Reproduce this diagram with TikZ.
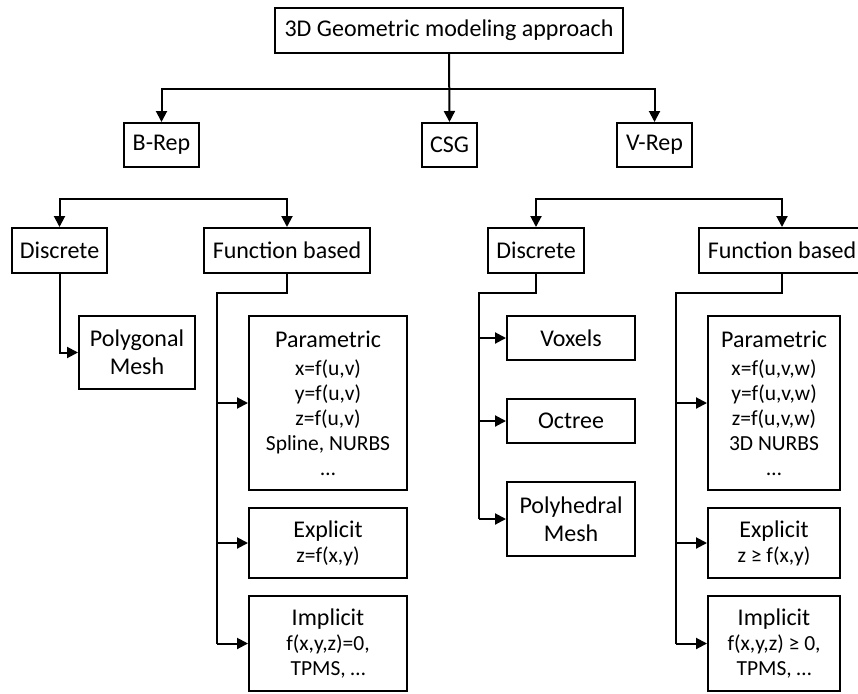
\documentclass[tikz,border=0pt]{standalone}
\usepackage{fontspec}
\setmainfont{Carlito}
\usetikzlibrary{arrows.meta}
\tikzset{>={Triangle[length=11pt,width=11pt]}}
\tikzset{
  box/.style={draw, line width=2pt, align=center, inner sep=0pt,
    font=\fontsize{24}{28}\selectfont},
  leaf/.style={box, font=\fontsize{21.5}{25}\selectfont},
  link/.style={line width=2pt},
  bus/.style={line width=2.6pt}
}
\newcommand{\head}[1]{{\fontsize{24}{28}\selectfont #1}}

\begin{document}
\begin{tikzpicture}[x=1pt,y=-1pt]
    \useasboundingbox (0,0) rectangle (858,693);
    % root and the three approaches
    \node[box,minimum width=348pt,minimum height=45pt] (top) at (449,30.5) {3D Geometric modeling approach};
    \node[box,minimum width=75pt,minimum height=44pt] (brep) at (161.5,145) {B-Rep};
    \node[box,minimum width=55pt,minimum height=44pt] (csg) at (449.5,145) {CSG};
    \node[box,minimum width=75pt,minimum height=44pt] (vrep) at (654.5,145) {V-Rep};
    \draw[link,->] (top.south) -- (csg.north);
    \draw[link,->] (top.south) ++(0,35) -| (brep.north);
    \draw[link,->] (top.south) ++(0,35) -| (vrep.north);
    % second level
    \begin{scope}[minimum height=45pt]
        \node[box,minimum width=95pt] (ldisc) at (59.5,250.5) {Discrete};
        \node[box,minimum width=166pt] (lfunc) at (287,250.5) {Function based};
        \node[box,minimum width=96pt] (rdisc) at (536,250.5) {Discrete};
        \node[box,minimum width=166pt] (rfunc) at (782,250.5) {Function based};
    \end{scope}
    \draw[link,->] (brep.south) ++(0,31) -| (ldisc.north);
    \draw[link,->] (brep.south) ++(0,31) -| (lfunc.north);
    \draw[link,->] (vrep.south) ++(0,31) -| (rdisc.north);
    \draw[link,->] (vrep.south) ++(0,31) -| (rfunc.north);
    % B-Rep leaves
    \node[box,minimum width=116pt,minimum height=73pt] (polymesh) at (137,352.5) {Polygonal\\Mesh};
    \draw[link,->] (ldisc.south) |- (polymesh.west);
    \begin{scope}[minimum width=158pt]
        \node[leaf,minimum height=174pt] (lpar) at (328,403)
            {\head{Parametric}\\[3pt]x=f(u,v)\\y=f(u,v)\\z=f(u,v)\\Spline, NURBS\\…};
        \node[leaf,minimum height=70pt] (lexp) at (328,543) {\head{Explicit}\\z=f(x,y)};
        \node[leaf,minimum height=95pt] (limp) at (328,643.5) {\head{Implicit}\\f(x,y,z)=0,\\TPMS, …};
    \end{scope}
    \coordinate (lbus) at (217,293);
    \draw[bus] (lfunc.south) |- (lbus) -- (lbus |- limp.west);
    \foreach \b in {lpar,lexp,limp}
        \draw[link,->] (lbus |- \b.west) -- (\b.west);
    % V-Rep leaves
    \begin{scope}[minimum width=128pt]
        \node[box,minimum height=44pt] (voxels) at (571,338) {Voxels};
        \node[box,minimum height=44pt] (octree) at (571,421) {Octree};
        \node[box,minimum height=74pt] (polyhed) at (571,519) {Polyhedral\\Mesh};
    \end{scope}
    \coordinate (rdbus) at (479,293);
    \draw[bus] (rdisc.south) |- (rdbus) -- (rdbus |- polyhed.west);
    \foreach \b in {voxels,octree,polyhed}
        \draw[link,->] (rdbus |- \b.west) -- (\b.west);
    \begin{scope}[minimum width=132pt]
        \node[leaf,minimum height=174pt] (rpar) at (774,403)
            {\head{Parametric}\\[3pt]x=f(u,v,w)\\y=f(u,v,w)\\z=f(u,v,w)\\3D NURBS\\…};
        \node[leaf,minimum height=70pt] (rexp) at (774,543) {\head{Explicit}\\z ≥ f(x,y)};
        \node[leaf,minimum height=95pt] (rimp) at (774,643.5) {\head{Implicit}\\f(x,y,z) ≥ 0,\\TPMS, …};
    \end{scope}
    \coordinate (rbus) at (676,293);
    \draw[bus] (rfunc.south) |- (rbus) -- (rbus |- rimp.west);
    \foreach \b in {rpar,rexp,rimp}
        \draw[link,->] (rbus |- \b.west) -- (\b.west);
\end{tikzpicture}
\end{document}
